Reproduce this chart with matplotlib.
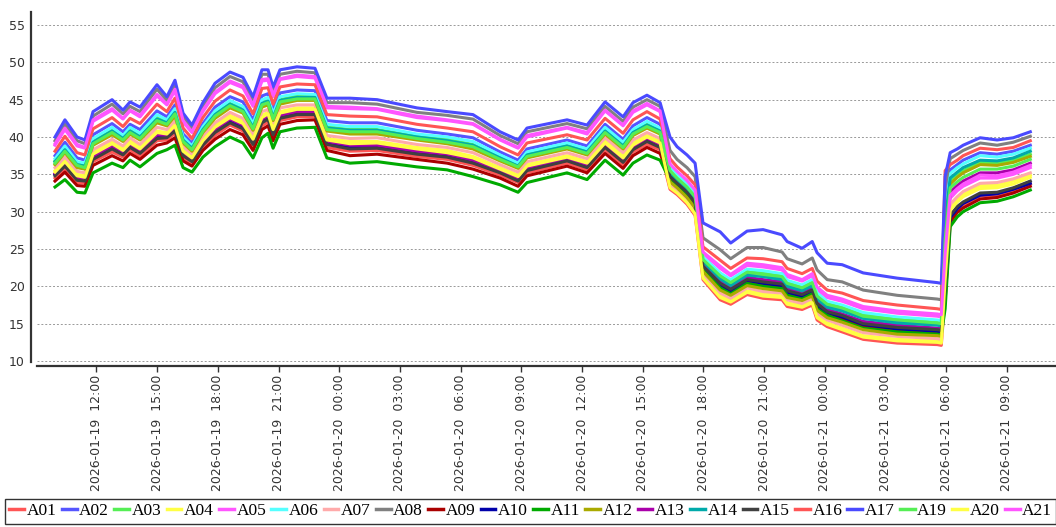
import pandas as pd
import matplotlib
matplotlib.use('Agg')
import matplotlib.pyplot as plt
import matplotlib.dates as mdates
#--------------
# sample times, hours after 2026-01-19 00:00
hours = [9.95, 10.44, 11.04, 11.43, 11.83, 12.77, 13.31, 13.66, 14.15, 14.99,
         15.48, 15.88, 16.28, 16.72, 17.26, 17.86, 18.60, 19.24, 19.74, 20.18,
         20.48, 20.73, 21.07, 21.91, 22.80, 23.39, 24.53, 25.87, 27.84, 29.33,
         30.61, 31.95, 32.84, 33.28, 35.26, 36.25, 37.14, 38.03, 38.52, 39.21,
         39.86,
         40.35, 40.70, 41.19, 41.59, 41.98, 42.83, 43.35, 44.16, 44.95, 45.89,
         46.14, 46.88, 47.38, 47.62, 48.12, 48.86, 49.90, 51.58, 53.56, 53.76,
         53.95, 54.20, 54.55, 54.84, 55.68, 56.52, 57.32, 58.16]

A01 = [34.5, 35.7, 33.9, 33.8, 36.7, 38.0, 37.3, 38.3, 37.4, 39.5, 39.6, 40.5, 37.2, 36.4, 38.6, 40.2, 41.6, 40.8, 38.7, 41.5, 42.0, 40.0, 42.2, 42.7, 42.7, 38.6, 38.1, 38.2, 37.4, 37.0, 36.2, 34.9, 33.9, 35.2, 36.5, 35.6, 38.3, 36.3, 38.0, 39.0, 38.3,
       33.0, 32.3, 31.0, 29.5, 20.9, 18.2, 17.6, 18.9, 18.4, 18.2, 17.3, 16.9, 17.5, 15.5, 14.6, 13.9, 12.9, 12.4, 12.2, 12.1,
       18.8, 29.0, 30.2, 30.9, 32.1, 32.2, 32.8, 33.7]
A02 = [37.5, 39.3, 37.2, 36.9, 40.3, 41.8, 40.7, 41.7, 41.0, 43.5, 42.7, 44.3, 40.4, 39.2, 41.8, 44.0, 45.4, 44.7, 42.3, 45.5, 45.8, 43.6, 45.9, 46.3, 46.2, 42.2, 41.9, 41.9, 40.9, 40.4, 39.9, 38.0, 36.9, 38.4, 39.6, 38.8, 41.7, 39.7, 41.5, 42.6, 41.7,
       35.3, 34.4, 33.2, 31.8, 23.4, 21.2, 20.3, 21.7, 21.4, 21.1, 20.2, 19.6, 20.3, 18.5, 17.4, 16.9, 15.8, 15.3, 14.9, 14.8,
       30.6, 35.6, 36.3, 36.9, 37.9, 37.7, 38.1, 38.9]
A03 = [36.8, 38.5, 36.5, 36.2, 39.5, 40.9, 39.9, 41.0, 40.2, 42.6, 42.0, 43.4, 39.7, 38.6, 41.1, 43.1, 44.5, 43.8, 41.5, 44.6, 44.9, 42.8, 45.0, 45.5, 45.4, 41.4, 41.0, 41.0, 40.1, 39.7, 39.0, 37.3, 36.2, 37.7, 38.9, 38.1, 41.0, 39.0, 40.7, 41.8, 40.9,
       35.7, 34.7, 33.5, 32.2, 23.8, 21.7, 20.7, 22.1, 21.9, 21.5, 20.6, 20.0, 20.7, 18.9, 17.8, 17.3, 16.3, 15.7, 15.4, 15.3,
       28.0, 34.1, 34.9, 35.5, 36.6, 36.5, 36.9, 37.7]
A04 = [35.5, 36.9, 35.0, 34.8, 37.9, 39.3, 38.4, 39.5, 38.6, 40.8, 40.6, 41.8, 38.3, 37.4, 39.7, 41.5, 42.9, 42.1, 39.9, 42.9, 43.3, 41.2, 43.4, 43.9, 43.9, 39.8, 39.4, 39.4, 38.6, 38.2, 37.4, 35.9, 34.9, 36.3, 37.5, 36.7, 39.5, 37.5, 39.2, 40.2, 39.4,
       33.4, 32.7, 31.4, 29.9, 21.4, 18.8, 18.1, 19.4, 19.0, 18.7, 17.8, 17.4, 18.0, 16.0, 15.1, 14.4, 13.4, 12.9, 12.7, 12.6,
       21.6, 30.6, 31.7, 32.3, 33.5, 33.5, 34.1, 34.9]
A05 = [38.9, 41.0, 38.8, 38.5, 42.1, 43.6, 42.4, 43.5, 42.7, 45.5, 44.3, 46.2, 42.0, 40.6, 43.4, 45.8, 47.3, 46.6, 44.1, 47.5, 47.6, 45.4, 47.7, 48.1, 47.9, 43.9, 43.8, 43.7, 42.6, 42.2, 41.7, 39.6, 38.5, 40.0, 41.2, 40.4, 43.5, 41.5, 43.3, 44.3, 43.4,
       36.2, 35.2, 34.0, 32.7, 24.4, 22.4, 21.4, 22.8, 22.6, 22.2, 21.3, 20.7, 21.4, 19.6, 18.5, 18.0, 17.0, 16.4, 16.0, 15.9,
       23.7, 31.8, 32.8, 33.4, 34.5, 34.5, 35.0, 35.9]
A06 = [37.1, 38.8, 36.7, 36.5, 39.8, 41.3, 40.2, 41.3, 40.5, 43.0, 42.3, 43.8, 40.0, 38.8, 41.4, 43.5, 44.9, 44.1, 41.8, 45.0, 45.3, 43.1, 45.4, 45.8, 45.7, 41.7, 41.4, 41.4, 40.4, 40.0, 39.4, 37.6, 36.5, 38.0, 39.2, 38.4, 41.3, 39.3, 41.0, 42.1, 41.2,
       35.8, 34.9, 33.6, 32.3, 23.9, 21.8, 20.9, 22.3, 22.1, 21.7, 20.8, 20.2, 20.9, 19.1, 18.0, 17.5, 16.5, 15.9, 15.5, 15.4,
       29.7, 35.1, 35.9, 36.4, 37.5, 37.3, 37.7, 38.5]
A07 = [35.9, 37.3, 35.4, 35.2, 38.3, 39.7, 38.8, 39.9, 39.0, 41.3, 41.0, 42.2, 38.7, 37.7, 40.1, 41.9, 43.3, 42.5, 40.3, 43.4, 43.7, 41.6, 43.9, 44.3, 44.3, 40.2, 39.8, 39.9, 39.0, 38.6, 37.9, 36.3, 35.3, 36.7, 37.9, 37.1, 39.9, 37.9, 39.6, 40.6, 39.8,
       33.7, 32.9, 31.7, 30.2, 21.7, 19.1, 18.4, 19.8, 19.3, 19.1, 18.2, 17.7, 18.4, 16.4, 15.5, 14.8, 13.8, 13.3, 13.0, 12.9,
       22.3, 31.0, 32.0, 32.7, 33.8, 33.9, 34.4, 35.2]
A08 = [39.5, 41.7, 39.5, 39.1, 42.8, 44.4, 43.1, 44.1, 43.4, 46.4, 44.9, 47.0, 42.7, 41.2, 44.1, 46.6, 48.1, 47.4, 44.8, 48.4, 48.4, 46.1, 48.4, 48.8, 48.6, 44.6, 44.6, 44.4, 43.3, 42.9, 42.4, 40.2, 39.1, 40.7, 41.8, 41.1, 44.1, 42.1, 44.0, 45.0, 44.1,
       38.2, 37.0, 35.9, 34.7, 26.5, 24.9, 23.7, 25.2, 25.2, 24.6, 23.7, 23.0, 23.8, 22.2, 20.9, 20.6, 19.5, 18.8, 18.3, 18.2,
       33.3, 37.1, 37.7, 38.2, 39.2, 38.9, 39.3, 40.1]
A09 = [34.1, 35.3, 33.5, 33.4, 36.2, 37.5, 36.8, 37.8, 37.0, 38.9, 39.2, 39.9, 36.8, 36.1, 38.2, 39.7, 41.0, 40.3, 38.2, 41.0, 41.5, 39.5, 41.7, 42.2, 42.3, 38.2, 37.5, 37.7, 37.0, 36.5, 35.7, 34.5, 33.4, 34.8, 36.1, 35.2, 37.8, 35.8, 37.5, 38.6, 37.8,
       34.3, 33.5, 32.3, 30.8, 22.3, 19.9, 19.2, 20.5, 20.2, 19.9, 19.0, 18.5, 19.1, 17.2, 16.2, 15.6, 14.6, 14.1, 13.8, 13.7,
       18.1, 28.6, 29.9, 30.5, 31.7, 31.9, 32.5, 33.4]
A10 = [35.0, 36.3, 34.5, 34.3, 37.3, 38.6, 37.8, 38.9, 38.0, 40.1, 40.1, 41.1, 37.7, 36.9, 39.1, 40.8, 42.2, 41.4, 39.3, 42.2, 42.6, 40.6, 42.8, 43.3, 43.3, 39.2, 38.7, 38.8, 38.0, 37.6, 36.8, 35.4, 34.4, 35.7, 37.0, 36.1, 38.9, 36.9, 38.5, 39.6, 38.8,
       34.5, 33.7, 32.5, 31.0, 22.6, 20.2, 19.4, 20.8, 20.4, 20.1, 19.2, 18.7, 19.4, 17.5, 16.5, 15.9, 14.9, 14.3, 14.0, 13.9,
       19.1, 29.2, 30.4, 31.1, 32.2, 32.4, 33.0, 33.8]
A11 = [33.3, 34.3, 32.6, 32.5, 35.2, 36.5, 35.9, 36.9, 36.0, 37.8, 38.3, 38.9, 35.9, 35.3, 37.3, 38.7, 40.0, 39.2, 37.2, 39.9, 40.5, 38.5, 40.7, 41.2, 41.3, 37.2, 36.5, 36.7, 36.0, 35.6, 34.7, 33.6, 32.6, 33.9, 35.2, 34.3, 36.9, 34.9, 36.5, 37.6, 36.9,
       34.2, 33.4, 32.1, 30.7, 22.2, 19.8, 19.0, 20.4, 20.0, 19.7, 18.8, 18.3, 19.0, 17.0, 16.1, 15.4, 14.4, 13.9, 13.6, 13.5,
       17.0, 28.0, 29.3, 30.0, 31.2, 31.4, 32.0, 32.9]
A12 = [36.3, 37.9, 35.9, 35.7, 38.9, 40.3, 39.4, 40.4, 39.6, 41.9, 41.5, 42.8, 39.2, 38.1, 40.6, 42.5, 43.9, 43.2, 40.9, 44.0, 44.3, 42.2, 44.4, 44.9, 44.9, 40.8, 40.4, 40.4, 39.6, 39.1, 38.4, 36.8, 35.8, 37.2, 38.4, 37.6, 40.4, 38.4, 40.2, 41.2, 40.4,
       34.0, 33.2, 31.9, 30.5, 22.0, 19.5, 18.8, 20.1, 19.7, 19.4, 18.5, 18.1, 18.7, 16.8, 15.8, 15.2, 14.2, 13.6, 13.4, 13.3,
       27.3, 33.7, 34.6, 35.2, 36.3, 36.2, 36.6, 37.4]
A13 = [35.1, 36.5, 34.6, 34.4, 37.4, 38.8, 38.0, 39.0, 38.2, 40.3, 40.2, 41.3, 37.9, 37.0, 39.3, 41.0, 42.4, 41.6, 39.4, 42.4, 42.8, 40.7, 42.9, 43.4, 43.4, 39.4, 38.9, 38.9, 38.1, 37.7, 36.9, 35.5, 34.5, 35.9, 37.1, 36.3, 39.0, 37.0, 38.7, 39.8, 39.0,
       34.9, 34.0, 32.8, 31.4, 23.0, 20.7, 19.8, 21.2, 20.9, 20.6, 19.7, 19.1, 19.8, 17.9, 16.9, 16.3, 15.3, 14.8, 14.4, 14.3,
       25.1, 32.6, 33.5, 34.1, 35.2, 35.2, 35.6, 36.5]
A14 = [36.7, 38.3, 36.3, 36.1, 39.3, 40.8, 39.8, 40.8, 40.0, 42.4, 41.9, 43.3, 39.6, 38.5, 41.0, 43.0, 44.4, 43.6, 41.3, 44.5, 44.8, 42.6, 44.9, 45.3, 45.3, 41.2, 40.9, 40.9, 40.0, 39.5, 38.9, 37.2, 36.1, 37.6, 38.8, 38.0, 40.8, 38.8, 40.6, 41.6, 40.8,
       35.2, 34.3, 33.1, 31.7, 23.3, 21.0, 20.1, 21.5, 21.3, 20.9, 20.0, 19.4, 20.1, 18.3, 17.2, 16.7, 15.7, 15.1, 14.8, 14.7,
       28.7, 34.5, 35.3, 35.9, 36.9, 36.8, 37.2, 38.1]
A15 = [34.8, 36.1, 34.2, 34.1, 37.0, 38.4, 37.6, 38.6, 37.8, 39.8, 39.9, 40.8, 37.5, 36.7, 38.9, 40.6, 41.9, 41.1, 39.0, 41.9, 42.4, 40.3, 42.5, 43.0, 43.0, 39.0, 38.4, 38.5, 37.7, 37.3, 36.5, 35.2, 34.1, 35.5, 36.8, 35.9, 38.6, 36.6, 38.3, 39.4, 38.6,
       34.7, 33.8, 32.6, 31.2, 22.7, 20.4, 19.6, 20.9, 20.6, 20.3, 19.4, 18.9, 19.5, 17.7, 16.6, 16.1, 15.0, 14.5, 14.2, 14.1,
       19.7, 29.5, 30.7, 31.3, 32.5, 32.6, 33.2, 34.1]
A16 = [38.1, 40.1, 37.9, 37.6, 41.1, 42.6, 41.4, 42.5, 41.8, 44.4, 43.4, 45.2, 41.2, 39.8, 42.6, 44.8, 46.3, 45.5, 43.1, 46.5, 46.6, 44.4, 46.7, 47.1, 47.0, 43.0, 42.8, 42.7, 41.7, 41.2, 40.7, 38.7, 37.6, 39.2, 40.3, 39.6, 42.5, 40.5, 42.3, 43.4, 42.4,
       37.1, 36.0, 34.8, 33.6, 25.3, 23.5, 22.4, 23.8, 23.7, 23.3, 22.4, 21.7, 22.4, 20.7, 19.5, 19.1, 18.1, 17.5, 17.0, 16.9,
       35.5, 36.3, 36.9, 37.5, 38.5, 38.3, 38.6, 39.5]
A17 = [40.0, 42.3, 40.0, 39.6, 43.4, 45.0, 43.6, 44.7, 44.0, 47.0, 45.4, 47.6, 43.2, 41.6, 44.6, 47.2, 48.7, 48.0, 45.4, 49.0, 49.0, 46.7, 49.0, 49.4, 49.2, 45.2, 45.2, 45.0, 43.9, 43.4, 43.0, 40.7, 39.6, 41.2, 42.3, 41.6, 44.7, 42.7, 44.6, 45.6, 44.6,
       40.0, 38.7, 37.6, 36.5, 28.5, 27.3, 25.8, 27.4, 27.6, 26.9, 26.0, 25.1, 26.0, 24.5, 23.1, 22.9, 21.8, 21.1, 20.5, 20.4,
       34.7, 37.9, 38.4, 38.9, 39.9, 39.6, 39.9, 40.7]
A19 = [36.5, 38.1, 36.2, 35.9, 39.1, 40.6, 39.6, 40.6, 39.8, 42.2, 41.7, 43.1, 39.4, 38.3, 40.8, 42.8, 44.2, 43.4, 41.1, 44.3, 44.6, 42.4, 44.7, 45.1, 45.1, 41.0, 40.7, 40.7, 39.8, 39.3, 38.7, 37.0, 36.0, 37.4, 38.6, 37.8, 40.6, 38.6, 40.4, 41.4, 40.6,
       35.5, 34.5, 33.3, 32.0, 23.6, 21.4, 20.5, 21.9, 21.6, 21.3, 20.4, 19.8, 20.5, 18.7, 17.6, 17.1, 16.0, 15.5, 15.1, 15.0,
       26.2, 33.2, 34.0, 34.6, 35.7, 35.7, 36.1, 37.0]
A20 = [35.3, 36.7, 34.8, 34.6, 37.7, 39.1, 38.2, 39.2, 38.4, 40.6, 40.4, 41.5, 38.1, 37.2, 39.5, 41.3, 42.6, 41.8, 39.7, 42.6, 43.1, 41.0, 43.2, 43.7, 43.7, 39.6, 39.1, 39.2, 38.4, 37.9, 37.2, 35.7, 34.7, 36.1, 37.3, 36.5, 39.2, 37.2, 38.9, 40.0, 39.2,
       33.2, 32.5, 31.2, 29.7, 21.1, 18.5, 17.9, 19.2, 18.7, 18.5, 17.6, 17.2, 17.8, 15.8, 14.9, 14.2, 13.2, 12.7, 12.5, 12.4,
       20.9, 30.2, 31.3, 32.0, 33.1, 33.2, 33.7, 34.6]
A21 = [39.1, 41.2, 39.0, 38.6, 42.3, 43.8, 42.5, 43.6, 42.9, 45.7, 44.4, 46.4, 42.2, 40.7, 43.6, 46.0, 47.5, 46.8, 44.3, 47.7, 47.8, 45.6, 47.8, 48.3, 48.1, 44.1, 44.0, 43.8, 42.8, 42.3, 41.8, 39.7, 38.6, 40.2, 41.3, 40.6, 43.6, 41.6, 43.5, 44.5, 43.5,
       36.4, 35.4, 34.2, 32.9, 24.6, 22.7, 21.6, 23.1, 22.9, 22.5, 21.6, 20.9, 21.7, 19.9, 18.8, 18.3, 17.3, 16.7, 16.3, 16.2,
       24.4, 32.2, 33.1, 33.7, 34.9, 34.8, 35.3, 36.2]

names = ['A01', 'A02', 'A03', 'A04', 'A05', 'A06', 'A07', 'A08', 'A09', 'A10',
         'A11', 'A12', 'A13', 'A14', 'A15', 'A16', 'A17', 'A19', 'A20', 'A21']
colors = ['#ff5555', '#5555ff', '#55ee55', '#ffff44', '#ff55ff', '#55ffff', '#ffaaaa',
          '#808080', '#aa0000', '#0000aa', '#00aa00', '#aaaa00', '#aa00aa', '#00aaaa',
          '#404040', '#ff5555', '#4a4aff', '#55ee55', '#ffff44', '#ff55ff']
#--------------
data = dict(A01=A01, A02=A02, A03=A03, A04=A04, A05=A05, A06=A06, A07=A07,
            A08=A08, A09=A09, A10=A10, A11=A11, A12=A12, A13=A13, A14=A14,
            A15=A15, A16=A16, A17=A17, A19=A19, A20=A20, A21=A21)
t0 = pd.Timestamp('2026-01-19 00:00')
times = t0 + pd.to_timedelta(hours, unit='h')

W, H = 1056, 527
fig = plt.figure(figsize=(W/100, H/100), dpi=100)
ax = fig.add_axes([37/W, 1-362/H, 1-37/W, 350/H])

for name, c in zip(names, colors):
    ax.plot(times, data[name], color=c, lw=2.2, label=name)

# axes look
ax.set_ylim(9.87, 56.74)
ax.set_xlim(t0 + pd.Timedelta(hours=9.06), t0 + pd.Timedelta(hours=59.43))
ax.set_yticks(range(10, 60, 5))
ax.yaxis.grid(True, ls=(0, (2, 2)), color='#999999', lw=0.7)
ax.set_axisbelow(True)
ax.xaxis.set_major_locator(mdates.HourLocator(byhour=range(0, 24, 3)))
ax.xaxis.set_major_formatter(mdates.DateFormatter('%Y-%m-%d  %H:%M'))
ax.tick_params(axis='x', length=4, width=1, color='#333333', pad=2,
               labelsize=9, labelcolor='#333333', labelrotation=90)
ax.tick_params(axis='y', length=0, pad=5, labelsize=9, labelcolor='#333333')
for s in ['top', 'right']:
    ax.spines[s].set_visible(False)
ax.spines['left'].set_position(('outward', 4))
ax.spines['bottom'].set_position(('outward', 3))
for s in ['left', 'bottom']:
    ax.spines[s].set_color('#333333')
    ax.spines[s].set_linewidth(1.6)

# legend strip at the bottom
leg = fig.legend(loc='upper left', bbox_to_anchor=(5/W, 1-499/H), ncol=20,
                 prop={'family': 'Liberation Serif', 'size': 12.5},
                 handlelength=0.85, handletextpad=0.15, columnspacing=0.3,
                 borderpad=0.25, borderaxespad=0, fancybox=False,
                 edgecolor='#333333', framealpha=1)
leg.get_frame().set_linewidth(1.0)
for ln in leg.get_lines():
    ln.set_linewidth(2.5)

fig.savefig('out.png', dpi=100)
